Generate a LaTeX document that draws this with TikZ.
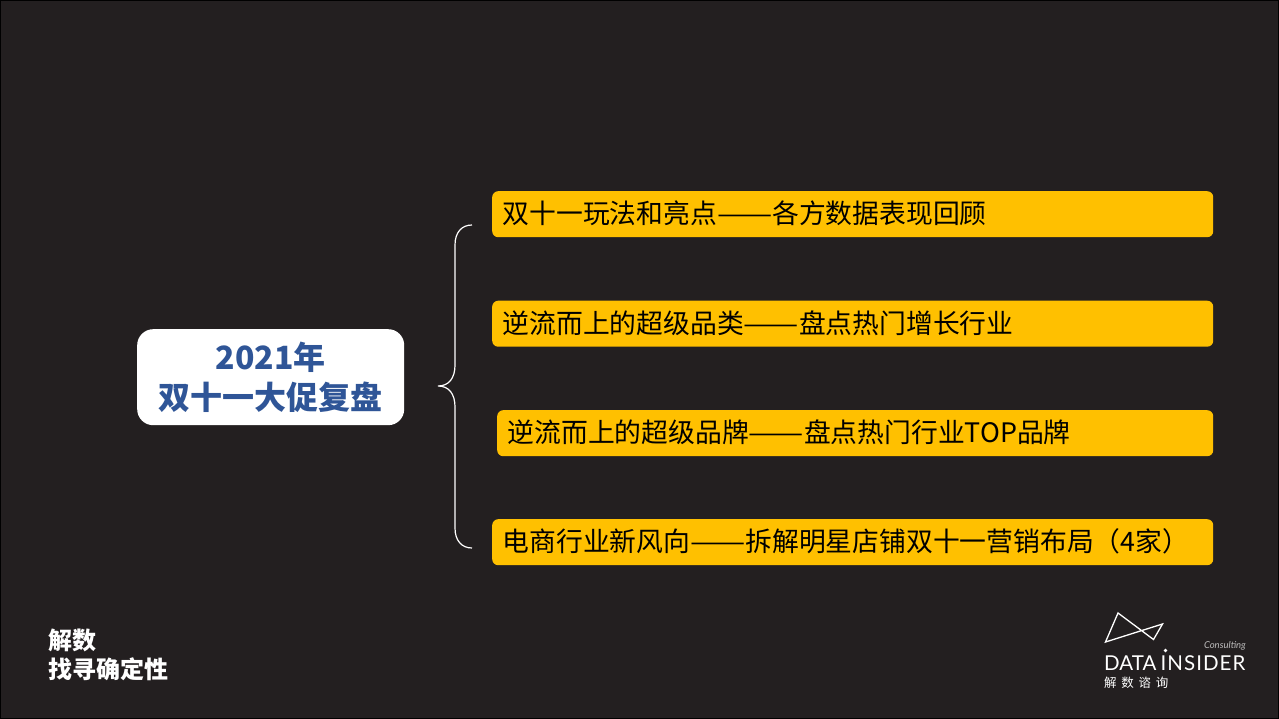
\documentclass[tikz,border=0pt]{standalone}
\usepackage{fontspec}
\setmainfont{Noto Sans CJK SC}
\newfontfamily\logofont{Lato}
\definecolor{bgdark}{HTML}{231F20}
\definecolor{itemgold}{HTML}{FFC000}
\definecolor{titleblue}{HTML}{2F5597}
\newcommand{\fsize}[1]{\fontsize{#1}{#1}\selectfont}
\newcommand{\longdash}{\scalebox{1.23}[1]{——}}
\tikzset{
    itembox/.style={fill=itemgold, rounded corners=6pt, anchor=north west, minimum height=46pt,
        text height=24pt, text depth=5pt, inner xsep=10.5pt, inner ysep=0pt, text=black,
        align=left, font=\fsize{26.8}},
    footnote/.style={text=white, anchor=west, inner sep=0pt, font=\fsize{24}\bfseries}
}
\begin{document}
\begin{tikzpicture}[x=1pt, y=-1pt]
    \useasboundingbox (0,0) rectangle (1279,719);
    \fill[bgdark] (0,0) rectangle (1279,719);
    \draw[black, line width=1pt] (0.5,0.5) rectangle (1278.5,718.5);
    \node (title) at (137,329) [anchor=north west, fill=white, rounded corners=16pt, minimum width=267pt,
        minimum height=96pt, inner sep=0pt, text=titleblue, align=center, font=\fsize{32}\bfseries]
        {\fsize{32}\bfseries 2021年\\[8pt]\fsize{32}\bfseries 双十一大促复盘};
    \node (itemA) at (492,191) [itembox, text width=700pt] {双十一玩法和亮点\longdash 各方数据表现回顾};
    \node (itemB) at (492,300.5) [itembox, text width=700pt] {逆流而上的超级品类\longdash 盘点热门增长行业};
    \node (itemC) at (497,410) [itembox, text width=695pt] {逆流而上的超级品牌\longdash 盘点热门行业TOP品牌};
    \node (itemD) at (492,519) [itembox, text width=700pt] {电商行业新风向\longdash 拆解明星店铺双十一营销布局（4家）};
    \coordinate (bracetop) at (472,225);
    \coordinate (bracetip) at (438,386);
    \coordinate (bracebot) at (472,548);
    \draw[white, line width=1.2pt] (bracetop) .. controls (462,225) and (455,232) .. (455,245)
        -- (455,365) .. controls (455,378) and (449,386) .. (bracetip)
        .. controls (449,386) and (455,394) .. (455,407)
        -- (455,528) .. controls (455,541) and (462,548) .. (bracebot);
    \node (sloganA) at (48,640) [footnote] {解数};
    \node (sloganB) at (48,669) [footnote] {找寻确定性};
    \draw[white, line width=1.3pt, line join=miter] (1105.5,642) -- (1118,613) -- (1153.5,639.5) -- (1162.5,624) -- cycle;
    \fill[white] (1165.5,650.5) circle (1.9pt);
    \node (consulting) at (1246,646) [anchor=east, inner sep=0pt, text=white!70!bgdark, font=\logofont\fsize{9.5}\itshape] {Consulting};
    \node (brandname) at (1104,663.5) [anchor=west, inner sep=0pt, text=white, font=\logofont\fsize{20.5}] {DATA\hspace{-1pt} {\addfontfeature{LetterSpace=5}INSIDER}};
    \node (brandcn) at (1104,683) [anchor=west, inner sep=0pt, text=white, font=\fsize{12.5}] {解\hspace{4.7pt}数\hspace{4.7pt}谘\hspace{4.7pt}询};
\end{tikzpicture}
\end{document}
